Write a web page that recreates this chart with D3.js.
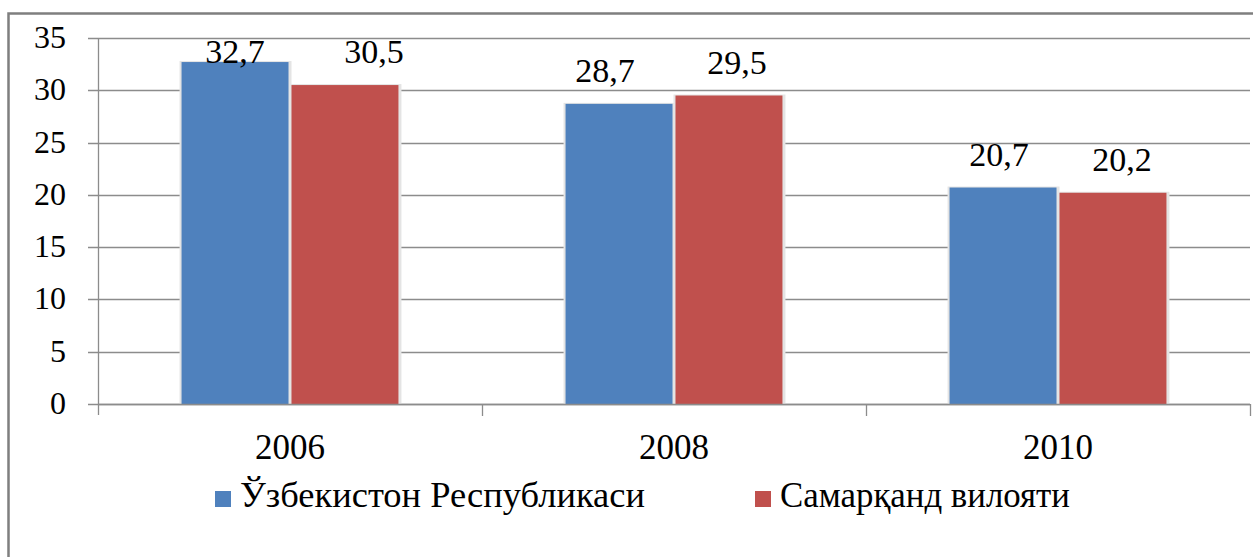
<!DOCTYPE html>
<html>
<head>
<meta charset="utf-8">
<script src="https://cdn.jsdelivr.net/npm/d3@7"></script>
<style>
  html, body { margin: 0; padding: 0; background: #fff; }
  #chart text { font-family: "Liberation Serif", Tinos, "Times New Roman", FreeSerif, Times, serif !important; }
</style>
</head>
<body>
<svg id="chart" width="1253" height="557" style="font-family: 'Liberation Serif', Tinos, 'Times New Roman', FreeSerif, Times, serif;"></svg>
<script>
const categories = ["2006", "2008", "2010"];
const seriesNames = ["Ўзбекистон Республикаси", "Самарқанд вилояти"];
const uzbValues = [32.7, 28.7, 20.7];
const samValues = [30.5, 29.5, 20.2];
const valueLabels = [["32,7", "28,7", "20,7"], ["30,5", "29,5", "20,2"]];
const yTicks = [0, 5, 10, 15, 20, 25, 30, 35];
const colors = ["#4F81BD", "#C0504D"];
const FONT = '"Liberation Serif", Tinos, "Times New Roman", FreeSerif, Times, serif';

(function () {
const svg = d3.select("#chart");
const W = 1253, H = 557;

// outer border
svg.append("rect")
  .attr("x", 8.5).attr("y", 13.5)
  .attr("width", W + 10).attr("height", H + 10)
  .attr("fill", "none").attr("stroke", "#7f7f7f").attr("stroke-width", 2.5);

const pLeft = 98, pRight = 1250, pTop = 38, pBottom = 404;

const x0 = d3.scaleBand().domain(categories).range([pLeft, pRight]).paddingInner(0).paddingOuter(0);
const x1 = d3.scaleBand().domain([0, 1]).range([0, x0.bandwidth()]).paddingOuter(0.76).paddingInner(0.027);
const y = d3.scaleLinear().domain([0, 35]).range([pBottom, pTop]);

// gridlines
svg.append("g")
  .selectAll("line").data(yTicks).join("line")
  .attr("x1", pLeft - 10).attr("x2", pRight)
  .attr("y1", d => Math.round(y(d)) + 0.5).attr("y2", d => Math.round(y(d)) + 0.5)
  .attr("stroke", "#8c8c8c").attr("stroke-width", 1.3);

// y axis line
svg.append("line")
  .attr("x1", pLeft + 0.5).attr("x2", pLeft + 0.5)
  .attr("y1", pTop).attr("y2", pBottom + 11)
  .attr("stroke", "#8c8c8c").attr("stroke-width", 1.3);

// y tick labels
svg.append("g")
  .selectAll("text").data(yTicks).join("text")
  .style("font-family", FONT)
  .attr("x", 66).attr("y", d => y(d) + 10)
  .attr("text-anchor", "end")
  .attr("font-size", 32)
  .text(d => d);

// x category ticks
const xTickPos = categories.map(c => x0(c)).concat([x0(categories[categories.length - 1]) + x0.bandwidth()]);
svg.append("g")
  .selectAll("line").data(xTickPos.slice(1)).join("line")
  .attr("x1", d => Math.round(d) + 0.5).attr("x2", d => Math.round(d) + 0.5)
  .attr("y1", pBottom).attr("y2", pBottom + 12)
  .attr("stroke", "#8c8c8c").attr("stroke-width", 1.3);

// bars
const series = [uzbValues, samValues];
// manual nudges of the data labels, as in the original
const labelNudge = [[0, -14, -4], [29, 8, 9]];
const barData = [];
categories.forEach((c, i) => {
  series.forEach((vals, s) => {
    barData.push({ cat: c, i, s, v: vals[i], label: valueLabels[s][i] });
  });
});

const gBars = svg.append("g");
gBars.selectAll("rect.shadow").data(barData).join("rect")
  .attr("class", "shadow")
  .attr("x", d => x0(d.cat) + x1(d.s) - 2)
  .attr("y", d => y(d.v) - 1)
  .attr("width", x1.bandwidth() + 5)
  .attr("height", d => pBottom - y(d.v) + 1)
  .attr("fill", "#e4e4e4");
gBars.selectAll("rect.bar").data(barData).join("rect")
  .attr("class", "bar")
  .attr("x", d => x0(d.cat) + x1(d.s))
  .attr("y", d => y(d.v))
  .attr("width", x1.bandwidth())
  .attr("height", d => pBottom - y(d.v))
  .attr("fill", d => colors[d.s]);

// x axis line
svg.append("line")
  .attr("x1", pLeft).attr("x2", pRight)
  .attr("y1", pBottom + 0.5).attr("y2", pBottom + 0.5)
  .attr("stroke", "#8c8c8c").attr("stroke-width", 1.3);

// value labels
svg.append("g")
  .selectAll("text").data(barData).join("text")
  .style("font-family", FONT)
  .attr("x", d => x0(d.cat) + x1(d.s) + x1.bandwidth() / 2 + labelNudge[d.s][d.i])
  .attr("y", d => Math.max(y(d.v) - 22, 63))
  .attr("text-anchor", "middle")
  .attr("font-size", 34)
  .text(d => d.label);

// x category labels
svg.append("g")
  .selectAll("text").data(categories).join("text")
  .style("font-family", FONT)
  .attr("x", d => x0(d) + x0.bandwidth() / 2)
  .attr("y", 459)
  .attr("text-anchor", "middle")
  .attr("font-size", 35)
  .text(d => d);

// legend
const legendX = [215, 755];
const legendW = [405, 290];
const lg = svg.append("g");
seriesNames.forEach((name, i) => {
  lg.append("rect")
    .attr("x", legendX[i]).attr("y", 491)
    .attr("width", 16).attr("height", 16)
    .attr("fill", colors[i]);
  lg.append("text")
    .style("font-family", FONT)
    .attr("x", legendX[i] + 25).attr("y", 507)
    .attr("font-size", 35)
    .attr("textLength", legendW[i])
    .attr("lengthAdjust", "spacingAndGlyphs")
    .text(name);
});
})();
</script>
</body>
</html>
